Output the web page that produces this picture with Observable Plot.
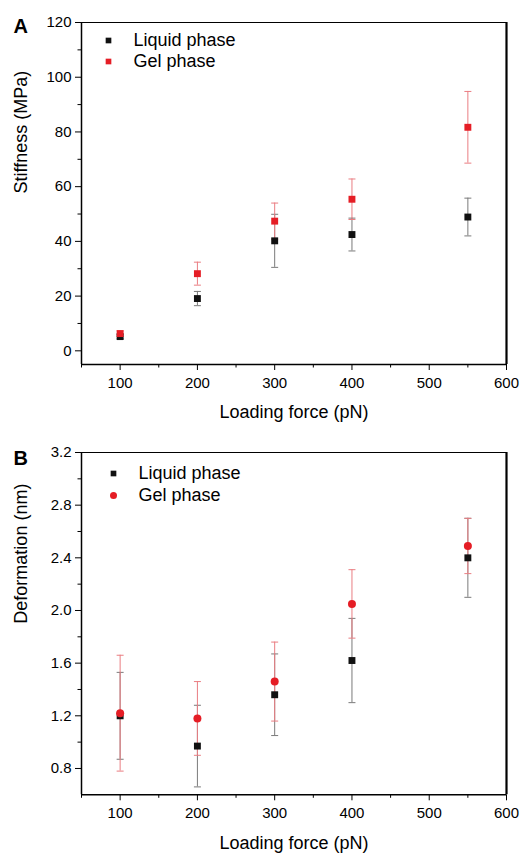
<!DOCTYPE html>
<html><head><meta charset="utf-8">
<script src="https://cdn.jsdelivr.net/npm/d3@7"></script>
<script src="https://cdn.jsdelivr.net/npm/@observablehq/plot@0.6"></script>
<style>body{margin:0;background:#fff} #c svg{display:block}</style>
</head><body><div id="c"></div>
<script>
const forces = [100, 200, 300, 400, 550];
const seriesNames = ["Liquid phase", "Gel phase"];
const xLabel = "Loading force (pN)";
const xMajor = [100, 200, 300, 400, 500, 600];
const xMinor = [50, 150, 250, 350, 450, 550];

const stiffLiquid = [5.2, 19.1, 40.2, 42.5, 48.9];
const stiffLiquidErr = [0.8, 2.6, 9.7, 6.0, 6.9];
const stiffGel = [6.3, 28.2, 47.4, 55.4, 81.7];
const stiffGelErr = [1.0, 4.2, 6.6, 7.4, 13.1];
const stiffMajor = [0, 20, 40, 60, 80, 100, 120];
const stiffMinor = [10, 30, 50, 70, 90, 110];

const deformLiquid = [1.20, 0.97, 1.36, 1.62, 2.40];
const deformLiquidErr = [0.33, 0.31, 0.31, 0.32, 0.30];
const deformGel = [1.22, 1.18, 1.46, 2.05, 2.49];
const deformGelErr = [0.44, 0.28, 0.30, 0.26, 0.21];
const deformMajor = [0.8, 1.2, 1.6, 2.0, 2.4, 2.8, 3.2];
const deformMinor = [1.0, 1.4, 1.8, 2.2, 2.6, 3.0];

const black = "#111111", red = "#e51d25";
const blackErr = "#7a7a7a", redErr = "#ea7d82";
const FONT = "'Liberation Sans', Arial, Helvetica, sans-serif";
const cap = {draw(ctx) { ctx.moveTo(-3.5, 0); ctx.lineTo(3.5, 0); }};

function panel(o) {
  const rows = forces.map((f, i) => ({x: f, liq: o.liquid[i], liqE: o.liquidErr[i], gel: o.gel[i], gelE: o.gelErr[i]}));
  const capsFor = (key, ekey) => rows.flatMap(d => [{x: d.x, y: d[key] - d[ekey]}, {x: d.x, y: d[key] + d[ekey]}]);
  const xd = [50, 600];
  return Plot.plot({
    width: 524, height: o.height, marginTop: o.marginTop, marginBottom: o.marginBottom,
    marginLeft: 81, marginRight: 18,
    style: {fontFamily: FONT, fontSize: "15px", color: "#000", background: "#fff", overflow: "visible"},
    x: {domain: xd},
    y: {domain: o.yDomain},
    marks: [
      Plot.axisX({ticks: xMajor, tickSize: 6, tickPadding: 7, label: null, fontSize: 15}),
      Plot.axisX({ticks: xMinor, tickSize: 3.5, tickFormat: () => "", label: null}),
      Plot.axisY({ticks: o.yMajor, tickSize: 6, tickPadding: 4, tickFormat: o.yFormat, label: null, fontSize: 15}),
      Plot.axisY({ticks: o.yMinor, tickSize: 3.5, tickFormat: () => "", label: null}),
      Plot.ruleX([xd[0]], {strokeWidth: 1.5, stroke: "#000"}),
      Plot.ruleX([xd[1]], {strokeWidth: 2.2, stroke: "#000"}),
      Plot.ruleY([o.yDomain[0]], {strokeWidth: 1.5, stroke: "#000"}),
      Plot.ruleY([o.yDomain[1]], {strokeWidth: 1, stroke: "#000"}),
      // error bars
      Plot.ruleX(rows, {x: "x", y1: d => d.liq - d.liqE, y2: d => d.liq + d.liqE, stroke: blackErr, strokeWidth: 1}),
      Plot.dot(capsFor("liq", "liqE"), {x: "x", y: "y", symbol: cap, stroke: blackErr, fill: "none", strokeWidth: 1}),
      Plot.ruleX(rows, {x: "x", y1: d => d.gel - d.gelE, y2: d => d.gel + d.gelE, stroke: redErr, strokeWidth: 1}),
      Plot.dot(capsFor("gel", "gelE"), {x: "x", y: "y", symbol: cap, stroke: redErr, fill: "none", strokeWidth: 1}),
      // markers
      Plot.dot(rows, {x: "x", y: "liq", symbol: "square", r: 3.9, fill: black, stroke: "none"}),
      Plot.dot(rows, {x: "x", y: "gel", symbol: o.gelSymbol, r: o.gelR, fill: red, stroke: "none"}),
      // legend
      Plot.dot([seriesNames[0]], {frameAnchor: "top-left", dx: o.legDx, dy: o.legDy, symbol: "square", r: 3.2, fill: black, stroke: "none"}),
      Plot.dot([seriesNames[1]], {frameAnchor: "top-left", dx: o.legDx, dy: o.legDy + o.legGap, symbol: o.gelSymbol, r: o.gelSymbol === "circle" ? 3.5 : 3.2, fill: red, stroke: "none"}),
      Plot.text([seriesNames[0]], {frameAnchor: "top-left", dx: o.legDx + 25, dy: o.legDy, textAnchor: "start", lineAnchor: "middle", fontSize: 18, fill: "#000"}),
      Plot.text([seriesNames[1]], {frameAnchor: "top-left", dx: o.legDx + 25, dy: o.legDy + o.legGap, textAnchor: "start", lineAnchor: "middle", fontSize: 18, fill: "#000"}),
      // axis labels
      Plot.text([xLabel], {frameAnchor: "bottom", dy: 48, lineAnchor: "middle", fontSize: 18, fill: "#000"}),
      Plot.text([o.yLabel], {frameAnchor: "left", dx: -60, rotate: -90, lineAnchor: "middle", fontSize: 18, fill: "#000"}),
      // panel letter
      Plot.text([o.letter], {frameAnchor: "top-left", dx: -68, dy: o.letterDy, textAnchor: "start", lineAnchor: "middle", fontSize: 20, fontWeight: "bold", fill: "#000"})
    ]
  });
}

const c = document.getElementById("c");
c.append(panel({
  letter: "A", height: 425, marginTop: 22, marginBottom: 61,
  yDomain: [-5, 120], yMajor: stiffMajor, yMinor: stiffMinor, yFormat: d3.format("d"),
  yLabel: "Stiffness (MPa)",
  liquid: stiffLiquid, liquidErr: stiffLiquidErr, gel: stiffGel, gelErr: stiffGelErr,
  gelSymbol: "square", gelR: 3.9, legDx: 27, legDy: 18, legGap: 21, letterDy: 4
}));
c.append(panel({
  letter: "B", height: 428, marginTop: 27, marginBottom: 58.7,
  yDomain: [0.6, 3.2], yMajor: deformMajor, yMinor: deformMinor, yFormat: d3.format(".1f"),
  yLabel: "Deformation (nm)",
  liquid: deformLiquid, liquidErr: deformLiquidErr, gel: deformGel, gelErr: deformGelErr,
  gelSymbol: "circle", gelR: 4, legDx: 32, legDy: 21, legGap: 22, letterDy: 6
}));
</script>
</body></html>
